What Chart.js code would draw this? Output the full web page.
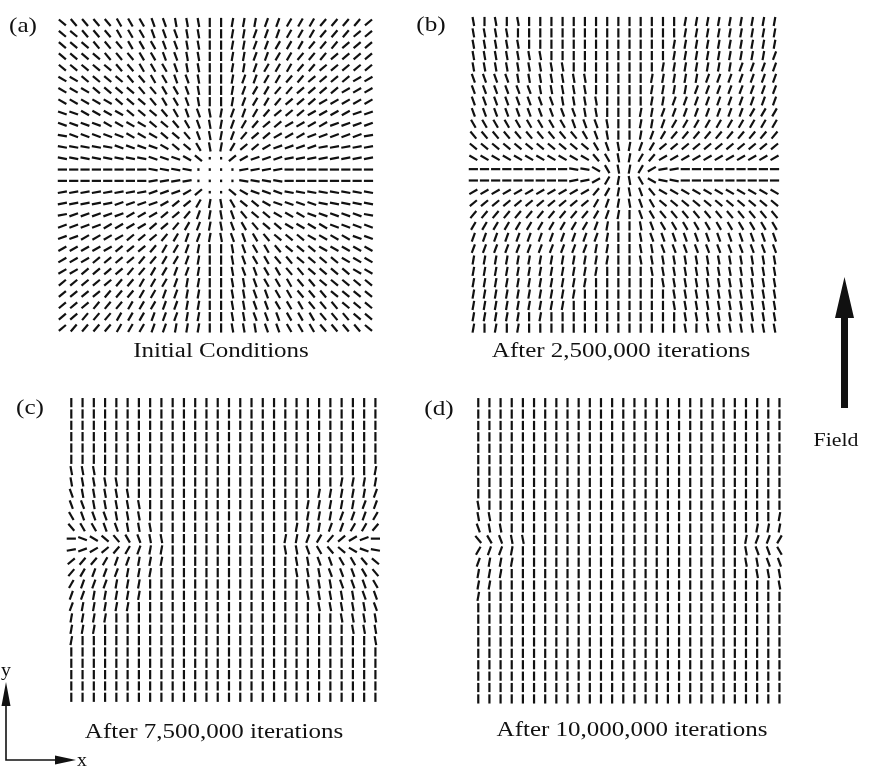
<!DOCTYPE html>
<html>
<head>
<meta charset="utf-8">
<script src="https://cdn.jsdelivr.net/npm/chart.js@4.4.1/dist/chart.umd.min.js"></script>
<style>
  html, body { margin: 0; padding: 0; background: #fff; }
  #wrap { position: relative; width: 869px; height: 768px; }
  canvas { display: block; }
</style>
</head>
<body>
<div id="wrap"><canvas id="fig" width="869" height="768"></canvas></div>
<script>
// Director orientation on each lattice site, one character per site.
// '|' vertical, '1'..'8' top leaning right ('/') by 10..80 deg,
// 'a'..'h' top leaning left ('\') by 10..80 deg, '-' horizontal,
// '.' director pointing out of the plane (seen almost end-on).
const panelA = [
  'eddddcccbbaaa|' + '|1112233344445',
  'eedddcccbbbaa|' + '|1122233344455',
  'eeedddcccbbaa|' + '|1122333444555',
  'eeeedddccbbaa|' + '|1122334445555',
  'eeeeeddcccbaa|' + '|1123334455555',
  'ffeeeeddccbba|' + '|1223344555566',
  'fffeeeeddccba|' + '|1233445555666',
  'fffffeeedccba|' + '|1233455566666',
  'ggffffeeedcbba' + '12234555666677',
  'ggggffffeedcba' + '12345566667777',
  'hgggggfffeedba' + '12455666777778',
  'hhhhhggggfeeca' + '13556777788888',
  'hhhhhhhhgggfe.' + '.5677788888888',
  '--------hhhh..' + '..8888--------',
  '--------8888..' + '..hhhh--------',
  '8888888877765.' + '.efggghhhhhhhh',
  '88888777765531' + 'aceefgggghhhhh',
  '87777766655421' + 'abdeefffgggggh',
  '77776666554321' + 'abcdeeffffgggg',
  '77666655543221' + 'abbcdeeeffffgg',
  '6666655543321|' + '|abccdeeefffff',
  '6665555443321|' + '|abccddeeeefff',
  '6655554433221|' + '|abbccddeeeeff',
  '5555544333211|' + '|aabcccddeeeee',
  '5555444332211|' + '|aabbccdddeeee',
  '5554443332211|' + '|aabbcccdddeee',
  '5544433322211|' + '|aabbbcccdddee',
  '5444433322111|' + '|aaabbcccdddde'
];

const panelB = [
  'a|a|a|||||||||' + '|||||111111111',
  'aaaa||||||||||' + '|||||111111111',
  'aaaaa|||||||||' + '||||1111111111',
  'aaaaaaa|||||||' + '||||1111111112',
  'aaaaaaaaa|||||' + '|||11111112222',
  'bbbbaaaaaaa|||' + '||111112222222',
  'bbbbbbaaaaa|||' + '||111122222222',
  'bbbbbbbbaaaa||' + '||112222222222',
  'bbbbbbbbbbaa||' + '|1122222222333',
  'cccccccccbbba|' + '|1123333333333',
  'ddddddddddcba|' + '|1234444444444',
  'eeeeeeeeeeecba' + '12355555555555',
  'fffffffffffdca' + '13466666666666',
  '---------hhfca' + '13688---------',
  '---------88631' + 'acfhh---------',
  '66666666666431' + 'abdfffffffffff',
  '55555555555321' + 'abceeeeeeeeeee',
  '44444444444321' + '|bcddddddddddd',
  '3333333333321|' + '|abccccccccccc',
  '2222222222221|' + '|abbbbbbbbbbbb',
  '2222222222211|' + '|aabbbbbbbbbbb',
  '1111111111111|' + '|aaaaaaaaaaaaa',
  '111111111111||' + '||aaaaaaaaaaaa',
  '11111111111|||' + '|||aaaaaaaaaaa',
  '1111111111||||' + '||||aaaaaaaaaa',
  '111111111|||||' + '||||aaaaaaaaaa',
  '11111|1|||||||' + '|||||aaaaaaaaa',
  '1|1|1|||||||||' + '|||||a|aaaaaaa'
];

const panelC = [
  '||||||||||' + '||||||||' + '||||||||||',
  '||||||||||' + '||||||||' + '||||||||||',
  '||||||||||' + '||||||||' + '||||||||||',
  '||||||||||' + '||||||||' + '||||||||||',
  '||||||||||' + '||||||||' + '||||||||||',
  '||||||||||' + '||||||||' + '||||||||||',
  'aaa|||||||' + '||||||||' + '|||||||||1',
  'aaaaa|||||' + '||||||||' + '||||||1111',
  'baaaaa||||' + '||||||||' + '||||111112',
  'bbaaaaa|||' + '||||||||' + '|||1111122',
  'cbbbaaa|||' + '||||||||' + '|||1112223',
  'dccbbaaa||' + '||||||||' + '||11122334',
  '-gfedcbaa|' + '||||||||' + '|11234567-',
  '876543211|' + '||||||||' + '|aabcdefgh',
  '544322111|' + '||||||||' + '||aabbccde',
  '43222111||' + '||||||||' + '||aaabbbcd',
  '3222111|||' + '||||||||' + '|||aaabbbc',
  '2211111|||' + '||||||||' + '|||aaaaabb',
  '211111||||' + '||||||||' + '||||aaaaab',
  '1111||||||' + '||||||||' + '||||||aaaa',
  '111|||||||' + '||||||||' + '|||||||aaa',
  '1|||||||||' + '||||||||' + '|||||||||a',
  '||||||||||' + '||||||||' + '||||||||||',
  '||||||||||' + '||||||||' + '||||||||||',
  '||||||||||' + '||||||||' + '||||||||||',
  '||||||||||' + '||||||||' + '||||||||||',
  '||||||||||' + '||||||||' + '||||||||||'
];

const panelD = [
  '||||||' + '||||||||||||||||' + '||||||',
  '||||||' + '||||||||||||||||' + '||||||',
  '||||||' + '||||||||||||||||' + '||||||',
  '||||||' + '||||||||||||||||' + '||||||',
  '||||||' + '||||||||||||||||' + '||||||',
  '||||||' + '||||||||||||||||' + '||||||',
  '||||||' + '||||||||||||||||' + '||||||',
  '||||||' + '||||||||||||||||' + '||||||',
  '||||||' + '||||||||||||||||' + '||||||',
  'a|||||' + '||||||||||||||||' + '||||||',
  'aa||||' + '||||||||||||||||' + '|||||1',
  'baa|||' + '||||||||||||||||' + '|||111',
  'dcbaa|' + '||||||||||||||||' + '||1223',
  '3221||' + '||||||||||||||||' + '||abbc',
  '2111||' + '||||||||||||||||' + '||aabb',
  '111|||' + '||||||||||||||||' + '|||aaa',
  '11||||' + '||||||||||||||||' + '|||||a',
  '1|||||' + '||||||||||||||||' + '||||||',
  '||||||' + '||||||||||||||||' + '||||||',
  '||||||' + '||||||||||||||||' + '||||||',
  '||||||' + '||||||||||||||||' + '||||||',
  '||||||' + '||||||||||||||||' + '||||||',
  '||||||' + '||||||||||||||||' + '||||||',
  '||||||' + '||||||||||||||||' + '||||||',
  '||||||' + '||||||||||||||||' + '||||||',
  '||||||' + '||||||||||||||||' + '||||||',
  '||||||' + '||||||||||||||||' + '||||||'
];

const panelTags = ['(a)', '(b)', '(c)', '(d)'];
const captions = [
  'Initial Conditions',
  'After 2,500,000 iterations',
  'After 7,500,000 iterations',
  'After 10,000,000 iterations'
];
const fieldLabel = 'Field';
const axisNames = ['x', 'y'];

// lean of the director from vertical, degrees (positive: top toward +x)
const LEAN = {
  '|': 0, '-': 90,
  '1': 10, '2': 20, '3': 30, '4': 40, '5': 50, '6': 60, '7': 70, '8': 80,
  'a': -10, 'b': -20, 'c': -30, 'd': -40, 'e': -50, 'f': -60, 'g': -70, 'h': -80
};

function decode(rows) {
  const pts = [];
  rows.forEach((row, r) => {
    for (let c = 0; c < row.length; c++) {
      const ch = row[c];
      pts.push({ x: c, y: r, lean: ch === '.' ? 0 : (LEAN[ch] || 0), dot: ch === '.' });
    }
  });
  return pts;
}

// where each lattice sits on the page (box enclosing all its cells)
const W = 869, H = 768;
const frames = [
  { left: 50.7,  top: 10.2,  width: 322.5, height: 322.5 },
  { left: 468.3, top: 9.2,   width: 317.3, height: 323.7 },
  { left: 59.8,  top: 397.2, width: 320.4, height: 311.5 },
  { left: 473.3, top: 397.2, width: 317.3, height: 313.2 }
];
const grids = [panelA, panelB, panelC, panelD];

const scales = {};
const datasets = [];
grids.forEach((rows, k) => {
  const f = frames[k];
  const nc = rows[0].length, nr = rows.length;
  const ux = nc / f.width, uy = nr / f.height;
  const xmin = -0.5 - f.left * ux, ymin = -0.5 - f.top * uy;
  scales['x' + k] = { type: 'linear', display: false, min: xmin, max: xmin + W * ux };
  scales['y' + k] = { type: 'linear', display: false, reverse: true, min: ymin, max: ymin + H * uy };
  datasets.push({
    label: panelTags[k],
    data: decode(rows),
    xAxisID: 'x' + k,
    yAxisID: 'y' + k,
    showLine: false,
    clip: false,
    pointStyle: 'line',
    pointRadius: (c) => (c.raw && c.raw.dot) ? 1.3 : 4.6,
    pointHoverRadius: (c) => (c.raw && c.raw.dot) ? 1.3 : 4.6,
    pointRotation: (c) => c.raw ? c.raw.lean - 90 : 0,
    pointBorderWidth: 2.2,
    pointBorderColor: '#111',
    pointBackgroundColor: '#111'
  });
});

function label(ctx, str, x, baseline, size, stretch) {
  ctx.save();
  ctx.translate(x, baseline);
  ctx.scale(stretch, 1);
  ctx.font = size + 'px "Liberation Serif", "Times New Roman", serif';
  ctx.textAlign = 'center';
  ctx.textBaseline = 'alphabetic';
  ctx.fillText(str, 0, 0);
  ctx.restore();
}

const tagPos = [[23, 32], [431, 31], [30, 414], [439, 415]];
const capPos = [[221, 357], [621, 357], [214, 738], [632, 736]];

const decorations = {
  id: 'decorations',
  afterDraw(chart) {
    const ctx = chart.ctx;
    ctx.save();
    ctx.fillStyle = '#111';
    ctx.strokeStyle = '#111';
    panelTags.forEach((t, i) => label(ctx, t, tagPos[i][0], tagPos[i][1], 21, 1.2));
    captions.forEach((t, i) => label(ctx, t, capPos[i][0], capPos[i][1], 20, 1.25));

    // field direction arrow
    ctx.beginPath();
    ctx.moveTo(844.5, 277);
    ctx.lineTo(854, 318);
    ctx.lineTo(848, 318);
    ctx.lineTo(848, 408);
    ctx.lineTo(841, 408);
    ctx.lineTo(841, 318);
    ctx.lineTo(835, 318);
    ctx.closePath();
    ctx.fill();
    label(ctx, fieldLabel, 836, 446, 19, 1.15);

    // coordinate frame
    ctx.lineWidth = 1.6;
    ctx.beginPath();
    ctx.moveTo(6, 704);
    ctx.lineTo(6, 760);
    ctx.lineTo(57, 760);
    ctx.stroke();
    ctx.beginPath();
    ctx.moveTo(6, 682);
    ctx.lineTo(10.5, 706);
    ctx.lineTo(1.5, 706);
    ctx.closePath();
    ctx.fill();
    ctx.beginPath();
    ctx.moveTo(76, 760);
    ctx.lineTo(55, 755.5);
    ctx.lineTo(55, 764.5);
    ctx.closePath();
    ctx.fill();
    label(ctx, axisNames[1], 6, 676, 18, 1.1);
    label(ctx, axisNames[0], 82, 766, 18, 1.1);
    ctx.restore();
  }
};

new Chart(document.getElementById('fig'), {
  type: 'scatter',
  data: { datasets },
  options: {
    responsive: false,
    animation: false,
    devicePixelRatio: 1,
    events: [],
    layout: { padding: 0 },
    scales,
    plugins: {
      legend: { display: false },
      tooltip: { enabled: false },
      title: { display: false }
    }
  },
  plugins: [decorations]
});
</script>
</body>
</html>
